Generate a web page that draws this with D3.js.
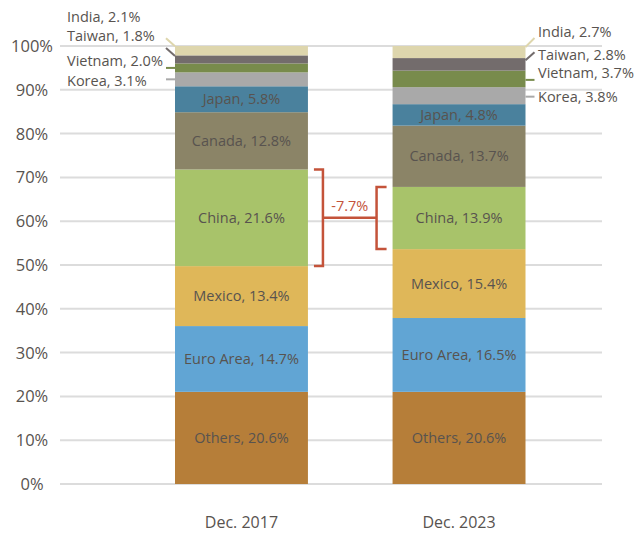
<!DOCTYPE html>
<html>
<head>
<meta charset="utf-8">
<script src="https://cdn.jsdelivr.net/npm/d3@7"></script>
<style>
  body { margin: 0; background: #fff; }
  svg { display: block; font-family: "Open Sans", sans-serif; }
</style>
</head>
<body>
<div id="root"></div>
<script>
const categories = ["Dec. 2017", "Dec. 2023"]
const partners = ["Others", "Euro Area", "Mexico", "China", "Canada", "Japan", "Korea", "Vietnam", "Taiwan", "India"]
const share2017 = [20.6, 14.7, 13.4, 21.6, 12.8, 5.8, 3.1, 2.0, 1.8, 2.1]
const share2023 = [20.6, 16.5, 15.4, 13.9, 13.7, 4.8, 3.8, 3.7, 2.8, 2.7]
const yTicks = [0, 10, 20, 30, 40, 50, 60, 70, 80, 90, 100]
const chinaChange = "-7.7%"

const colors = {
  "Others": "#b67e39", "Euro Area": "#61a5d4", "Mexico": "#dfb759", "China": "#a8c36a",
  "Canada": "#8b8467", "Japan": "#4a819d", "Korea": "#a9a9a9", "Vietnam": "#788b4c",
  "Taiwan": "#736c6c", "India": "#ded6ad"
}
const outside = ["Korea", "Vietnam", "Taiwan", "India"]

// label / leader placement relative to segment centre
const leftLabelDy = { India: -28.5, Taiwan: -18.5, Vietnam: -2, Korea: 6.5 }
const leftLead = { India: [-12.5, -4.5], Taiwan: [-11.5, -3.5], Vietnam: [0, 0], Korea: [0, 0] }
const rightLabelDy = { India: -15, Taiwan: -4, Vietnam: -1, Korea: 6 }
const rightLead = { India: [-5, -14], Taiwan: [-4, -12], Vietnam: [1, 1], Korea: [1, 1] }

const width = 634, height = 533
const svg = d3.select("#root").append("svg").attr("width", width).attr("height", height)

const y = d3.scaleLinear().domain([0, 100]).range([484, 46])
const x = d3.scaleBand().domain(categories).range([175, 525.5]).paddingInner(0.389).paddingOuter(0)

// grid
svg.append("g").selectAll("line").data(yTicks).join("line")
  .attr("x1", 60).attr("x2", 602)
  .attr("y1", d => y(d)).attr("y2", d => y(d))
  .attr("stroke", "#dcdcdc").attr("stroke-width", 2)

svg.append("g").selectAll("text").data(yTicks).join("text")
  .attr("x", 32).attr("y", d => y(d) + 6)
  .attr("text-anchor", "middle")
  .attr("font-size", 16.5).attr("fill", "#58534f")
  .text(d => d + "%")

// stacked data, normalised to 100
const rows = [share2017, share2023].map((vals, i) => {
  const total = d3.sum(vals)
  const obj = { cat: categories[i] }
  partners.forEach((p, j) => { obj[p] = vals[j] / total * 100; obj[p + "_raw"] = vals[j] })
  return obj
})
const stack = d3.stack().keys(partners)(rows)

const segs = []
stack.forEach(layer => layer.forEach(d => {
  segs.push({ key: layer.key, cat: d.data.cat, y0: d[0], y1: d[1], raw: d.data[layer.key + "_raw"] })
}))

svg.append("g").selectAll("rect").data(segs).join("rect")
  .attr("x", d => x(d.cat))
  .attr("width", x.bandwidth())
  .attr("y", d => y(d.y1))
  .attr("height", d => y(d.y0) - y(d.y1))
  .attr("fill", d => colors[d.key])

const fmt = d => d.key + ", " + d.raw.toFixed(1) + "%"

svg.append("g").selectAll("text").data(segs.filter(d => !outside.includes(d.key))).join("text")
  .attr("x", d => x(d.cat) + x.bandwidth() / 2)
  .attr("y", d => y((d.y0 + d.y1) / 2) + 5)
  .attr("text-anchor", "middle")
  .attr("font-size", 14.5).attr("fill", "#58534f")
  .text(fmt)

// outside labels
const outSegs = segs.filter(d => outside.includes(d.key))
outSegs.forEach(d => {
  const cy = y((d.y0 + d.y1) / 2)
  const left = d.cat === categories[0]
  const edge = left ? x(d.cat) : x(d.cat) + x.bandwidth()
  const lead = left ? leftLead[d.key] : rightLead[d.key]
  if (left) {
    svg.append("line")
      .attr("x1", edge - 9).attr("y1", cy + lead[0])
      .attr("x2", edge).attr("y2", cy + lead[1])
      .attr("stroke", colors[d.key]).attr("stroke-width", 2)
    svg.append("text")
      .attr("x", 67).attr("y", cy + leftLabelDy[d.key])
      .attr("font-size", 14.5).attr("fill", "#58534f")
      .text(fmt(d))
  } else {
    svg.append("line")
      .attr("x1", edge).attr("y1", cy + lead[0])
      .attr("x2", edge + 9).attr("y2", cy + lead[1])
      .attr("stroke", colors[d.key]).attr("stroke-width", 2)
    svg.append("text")
      .attr("x", 538).attr("y", cy + rightLabelDy[d.key])
      .attr("font-size", 14.5).attr("fill", "#58534f")
      .text(fmt(d))
  }
})

// bracket for China change
const china = segs.filter(d => d.key === "China")
const c1 = china[0], c2 = china[1]
const bx1 = x(c1.cat) + x.bandwidth() + 15
const bx2 = x(c2.cat) - 16
const red = "#c4533a"
const mid = y((c1.y0 + c1.y1) / 2)
svg.append("path")
  .attr("d", `M${bx1 - 9},${y(c1.y1)}H${bx1}V${y(c1.y0)}H${bx1 - 9}`)
  .attr("fill", "none").attr("stroke", red).attr("stroke-width", 2.5)
svg.append("path")
  .attr("d", `M${bx2 + 10},${y(c2.y1)}H${bx2}V${y(c2.y0)}H${bx2 + 10}`)
  .attr("fill", "none").attr("stroke", red).attr("stroke-width", 2.5)
svg.append("line")
  .attr("x1", bx1).attr("x2", bx2).attr("y1", mid).attr("y2", mid)
  .attr("stroke", red).attr("stroke-width", 2.5)
svg.append("text")
  .attr("x", (bx1 + bx2) / 2).attr("y", mid - 7)
  .attr("text-anchor", "middle").attr("font-size", 14.5).attr("fill", red)
  .text(chinaChange)

// category labels
svg.append("g").selectAll("text").data(categories).join("text")
  .attr("x", d => x(d) + x.bandwidth() / 2).attr("y", 528)
  .attr("text-anchor", "middle").attr("font-size", 16).attr("fill", "#58534f")
  .text(d => d)
</script>
</body>
</html>
